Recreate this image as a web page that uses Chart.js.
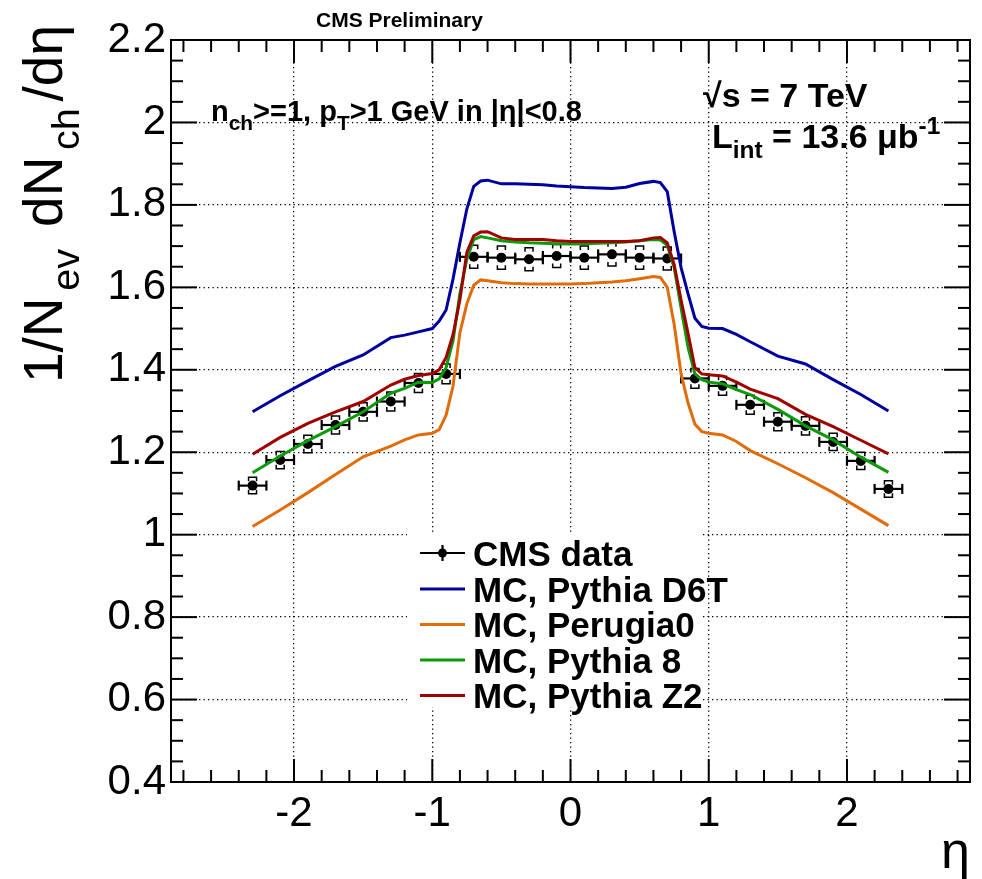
<!DOCTYPE html>
<html>
<head>
<meta charset="utf-8">
<script src="https://cdn.jsdelivr.net/npm/chart.js@4.4.1/dist/chart.umd.min.js"></script>
<style>
  html, body { margin: 0; padding: 0; background: #fff; }
  canvas { display: block; }
</style>
</head>
<body>
<canvas id="myChart" width="982" height="879"></canvas>
<script>
// CMS data points (bin centres, value, stat and syst errors)
const cmsEta = [-2.3, -2.1, -1.9, -1.7, -1.5, -1.3, -1.1, -0.9, -0.7, -0.5, -0.3, -0.1,
                0.1, 0.3, 0.5, 0.7, 0.9, 1.1, 1.3, 1.5, 1.7, 1.9, 2.1, 2.3];
const cmsVal = [1.119, 1.181, 1.220, 1.266, 1.298, 1.323, 1.368, 1.390, 1.674, 1.672, 1.668, 1.676,
                1.672, 1.680, 1.672, 1.670, 1.379, 1.361, 1.315, 1.274, 1.264, 1.225, 1.179, 1.111];
const cmsStat = [0.004, 0.004, 0.004, 0.004, 0.004, 0.004, 0.004, 0.004, 0.004, 0.004, 0.004, 0.004,
                 0.004, 0.004, 0.004, 0.004, 0.004, 0.004, 0.004, 0.004, 0.004, 0.004, 0.004, 0.004];
const cmsSyst = [0.020, 0.021, 0.021, 0.022, 0.022, 0.023, 0.023, 0.024, 0.028, 0.028, 0.028, 0.028,
                 0.028, 0.028, 0.028, 0.028, 0.024, 0.023, 0.023, 0.022, 0.022, 0.021, 0.021, 0.020];
const cmsBinHalf = 0.1;

// MC predictions
const mcEta = [-2.3, -2.1, -1.9, -1.7, -1.5, -1.3, -1.2, -1.1, -1.0, -0.95, -0.9, -0.85, -0.8, -0.75,
               -0.7, -0.65, -0.6, -0.5, -0.4, -0.3, -0.2, -0.1, 0, 0.1, 0.2, 0.3, 0.4, 0.5, 0.6,
               0.65, 0.7, 0.75, 0.8, 0.85, 0.9, 0.95, 1.0, 1.1, 1.2, 1.3, 1.5, 1.7, 1.9, 2.1, 2.3];
const d6t = [1.298, 1.337, 1.373, 1.408, 1.436, 1.478, 1.484, 1.492, 1.500, 1.518, 1.545, 1.620, 1.708, 1.790,
             1.845, 1.858, 1.860, 1.851, 1.851, 1.850, 1.849, 1.846, 1.844, 1.842, 1.841, 1.840, 1.843, 1.852, 1.857,
             1.854, 1.832, 1.735, 1.648, 1.585, 1.525, 1.505, 1.501, 1.500, 1.486, 1.468, 1.433, 1.414, 1.376, 1.340, 1.300];
const perugia0 = [1.020, 1.060, 1.102, 1.146, 1.189, 1.215, 1.230, 1.242, 1.246, 1.255, 1.290, 1.360, 1.490, 1.560,
                  1.605, 1.618, 1.616, 1.611, 1.609, 1.608, 1.608, 1.608, 1.608, 1.609, 1.611, 1.613, 1.616, 1.621, 1.626,
                  1.624, 1.600, 1.510, 1.390, 1.320, 1.268, 1.250, 1.246, 1.242, 1.226, 1.204, 1.172, 1.138, 1.102, 1.062, 1.022];
const pythia8 = [1.150, 1.191, 1.228, 1.262, 1.298, 1.343, 1.355, 1.370, 1.369, 1.378, 1.405, 1.470, 1.585, 1.668,
                 1.716, 1.723, 1.720, 1.713, 1.710, 1.708, 1.707, 1.706, 1.705, 1.706, 1.707, 1.708, 1.710, 1.713, 1.716,
                 1.715, 1.702, 1.648, 1.550, 1.455, 1.390, 1.376, 1.370, 1.366, 1.352, 1.340, 1.304, 1.264, 1.230, 1.188, 1.151];
const z2 = [1.195, 1.236, 1.270, 1.298, 1.323, 1.363, 1.377, 1.386, 1.391, 1.400, 1.430, 1.485, 1.570, 1.685,
            1.725, 1.734, 1.735, 1.720, 1.716, 1.716, 1.716, 1.713, 1.711, 1.711, 1.711, 1.711, 1.711, 1.713, 1.720,
            1.721, 1.708, 1.655, 1.569, 1.489, 1.405, 1.390, 1.388, 1.385, 1.370, 1.353, 1.330, 1.292, 1.262, 1.229, 1.196];

const xTicks = [-2, -1, 0, 1, 2];
const yTicks = [0.4, 0.6, 0.8, 1.0, 1.2, 1.4, 1.6, 1.8, 2.0, 2.2];
const xMin = -2.89, xMax = 2.89;

const legendLabels = ['CMS data', 'MC, Pythia D6T', 'MC, Perugia0', 'MC, Pythia 8', 'MC, Pythia Z2'];
const colD6T = '#0000a0', colPer = '#e06c0a', colPy8 = '#0a9a0a', colZ2 = '#a00000';

const FONT = '"Liberation Sans", Arial, Helvetica, sans-serif';

function pts(xs, ys) { return xs.map((x, i) => ({ x: x, y: ys[i] })); }

// text with sub (1) / superscripts (2), optional extra gap between parts
function richWidth(ctx, parts, size, bold) {
  let w = 0;
  for (const [t, m] of parts) {
    ctx.font = (bold ? 'bold ' : '') + (m ? size * 0.72 : size) + 'px ' + FONT;
    w += ctx.measureText(t).width;
  }
  return w;
}
function drawRich(ctx, parts, x, y, size, bold, gap) {
  let cx = x;
  ctx.textAlign = 'left';
  ctx.textBaseline = 'alphabetic';
  for (const [t, m] of parts) {
    ctx.font = (bold ? 'bold ' : '') + (m ? size * 0.72 : size) + 'px ' + FONT;
    const dy = m === 1 ? size * 0.3 : (m === 2 ? -size * 0.42 : 0);
    ctx.fillText(t, cx, y + dy);
    cx += ctx.measureText(t).width + (gap || 0);
  }
}

function seg(ctx, x1, y1, x2, y2) {
  ctx.beginPath(); ctx.moveTo(x1, y1); ctx.lineTo(x2, y2); ctx.stroke();
}

const cmsDecor = {
  id: 'cmsDecor',
  beforeDatasetsDraw(chart) {
    const { ctx, scales: { x, y } } = chart;
    ctx.save();
    // legend box hides the grid
    ctx.fillStyle = '#fff';
    ctx.fillRect(407, 534, 293, 173);

    ctx.strokeStyle = '#000';
    cmsEta.forEach((eta, i) => {
      const px = x.getPixelForValue(eta);
      const py = y.getPixelForValue(cmsVal[i]);
      const xl = x.getPixelForValue(eta - cmsBinHalf);
      const xr = x.getPixelForValue(eta + cmsBinHalf);
      ctx.lineWidth = 2.2;
      seg(ctx, xl, py, xr, py);
      seg(ctx, xl, py - 5, xl, py + 5);
      seg(ctx, xr, py - 5, xr, py + 5);
      seg(ctx, px, y.getPixelForValue(cmsVal[i] + cmsStat[i]), px, y.getPixelForValue(cmsVal[i] - cmsStat[i]));
      // systematic brackets
      const yt = y.getPixelForValue(cmsVal[i] + cmsSyst[i]);
      const yb = y.getPixelForValue(cmsVal[i] - cmsSyst[i]);
      ctx.lineWidth = 1.5;
      ctx.beginPath();
      ctx.moveTo(px - 4, yt + 4); ctx.lineTo(px - 4, yt); ctx.lineTo(px + 4, yt); ctx.lineTo(px + 4, yt + 4);
      ctx.moveTo(px - 4, yb - 4); ctx.lineTo(px - 4, yb); ctx.lineTo(px + 4, yb); ctx.lineTo(px + 4, yb - 4);
      ctx.stroke();
    });
    ctx.restore();
  },
  afterDraw(chart) {
    const { ctx, chartArea: { left, right, top, bottom }, scales: { x, y } } = chart;
    ctx.save();
    ctx.strokeStyle = '#000';
    ctx.fillStyle = '#000';
    ctx.lineWidth = 2;

    // inner tick marks on all four sides
    for (let k = -14; k <= 14; k++) {
      const v = k * 0.2;
      if (v < x.min || v > x.max) continue;
      const px = x.getPixelForValue(v);
      const len = k % 5 === 0 ? 23 : 12;
      seg(ctx, px, bottom, px, bottom - len);
      seg(ctx, px, top, px, top + len);
    }
    for (let k = 8; k <= 44; k++) {
      const py = y.getPixelForValue(k * 0.05);
      const len = k % 4 === 0 ? 26 : 12;
      seg(ctx, left, py, left + len, py);
      seg(ctx, right, py, right - len, py);
    }
    ctx.strokeRect(left, top, right - left, bottom - top);

    // labels
    ctx.font = 'bold 21px ' + FONT;
    ctx.textAlign = 'left';
    ctx.fillText('CMS Preliminary', 316, 27);
    drawRich(ctx, [['n', 0], ['ch', 1], ['>=1, p', 0], ['T', 1], ['>1 GeV in |η|<0.8', 0]], 211, 121, 29, true);
    drawRich(ctx, [['√s = 7 TeV', 0]], 703, 107, 34, true);
    drawRich(ctx, [['L', 0], ['int', 1], [' = 13.6 μb', 0], ['-1', 2]], 712, 148, 34, true);

    // axis titles
    const yTitle = [['1/N', 0], ['ev', 1], [' dN', 0], ['ch', 1], ['/dη', 0]];
    ctx.save();
    ctx.translate(62, 25);
    ctx.rotate(-Math.PI / 2);
    const w = richWidth(ctx, yTitle, 55, false);
    const gap = Math.max((358 - w) / (yTitle.length - 1), 0);
    drawRich(ctx, yTitle, -(w + gap * (yTitle.length - 1)), 0, 55, false, gap);
    ctx.restore();
    ctx.font = '52px ' + FONT;
    ctx.textAlign = 'right';
    ctx.fillText('η', 970, 868);

    // legend
    const rows = [553, 589, 624.5, 660, 695.5];
    const cols = ['#000', colD6T, colPer, colPy8, colZ2];
    rows.forEach((ry, i) => {
      ctx.strokeStyle = cols[i];
      ctx.lineWidth = i === 0 ? 2.2 : 3;
      seg(ctx, 420, ry, 465, ry);
      if (i === 0) {
        seg(ctx, 442.5, ry - 8, 442.5, ry + 8);
        ctx.beginPath(); ctx.arc(442.5, ry, 4.5, 0, Math.PI * 2); ctx.fill();
      }
      ctx.font = 'bold 35px ' + FONT;
      ctx.textAlign = 'left';
      ctx.fillText(legendLabels[i], 473, ry + 12.5);
    });
    ctx.restore();
  }
};

const ctx = document.getElementById('myChart').getContext('2d');
const myChart = new Chart(ctx, {
  type: 'scatter',
  data: {
    datasets: [
      { label: legendLabels[0], data: pts(cmsEta, cmsVal), order: 5,
        pointRadius: 5, pointBorderWidth: 0, backgroundColor: '#000', borderColor: '#000', showLine: false },
      { label: legendLabels[1], data: pts(mcEta, d6t), order: 4, showLine: true,
        pointRadius: 0, borderColor: colD6T, borderWidth: 3, tension: 0 },
      { label: legendLabels[2], data: pts(mcEta, perugia0), order: 3, showLine: true,
        pointRadius: 0, borderColor: colPer, borderWidth: 3, tension: 0 },
      { label: legendLabels[3], data: pts(mcEta, pythia8), order: 2, showLine: true,
        pointRadius: 0, borderColor: colPy8, borderWidth: 3, tension: 0 },
      { label: legendLabels[4], data: pts(mcEta, z2), order: 1, showLine: true,
        pointRadius: 0, borderColor: colZ2, borderWidth: 3, tension: 0 }
    ]
  },
  options: {
    responsive: false,
    animation: false,
    layout: { padding: { left: 0, right: 12, top: 40, bottom: 0 } },
    plugins: { legend: { display: false }, tooltip: { enabled: false } },
    scales: {
      x: {
        type: 'linear', min: xMin, max: xMax,
        afterBuildTicks: axis => { axis.ticks = xTicks.map(v => ({ value: v })); },
        afterFit: axis => { axis.height = 97; },
        grid: { color: '#000', lineWidth: 1.3, drawTicks: false },
        border: { display: true, color: '#000', width: 2, dash: [1.3, 3.2] },
        ticks: { color: '#000', font: { family: FONT, size: 42 }, padding: 7,
                 maxRotation: 0, autoSkip: false, callback: v => String(v) }
      },
      y: {
        type: 'linear', min: 0.4, max: 2.2,
        afterBuildTicks: axis => { axis.ticks = yTicks.map(v => ({ value: v })); },
        afterFit: axis => { axis.width = 171; },
        grid: { color: '#000', lineWidth: 1.3, drawTicks: false },
        border: { display: true, color: '#000', width: 2, dash: [1.3, 3.2] },
        ticks: { color: '#000', font: { family: FONT, size: 42 }, padding: 5,
                 autoSkip: false, callback: v => String(Math.round(v * 10) / 10) }
      }
    }
  },
  plugins: [cmsDecor]
});
</script>
</body>
</html>
